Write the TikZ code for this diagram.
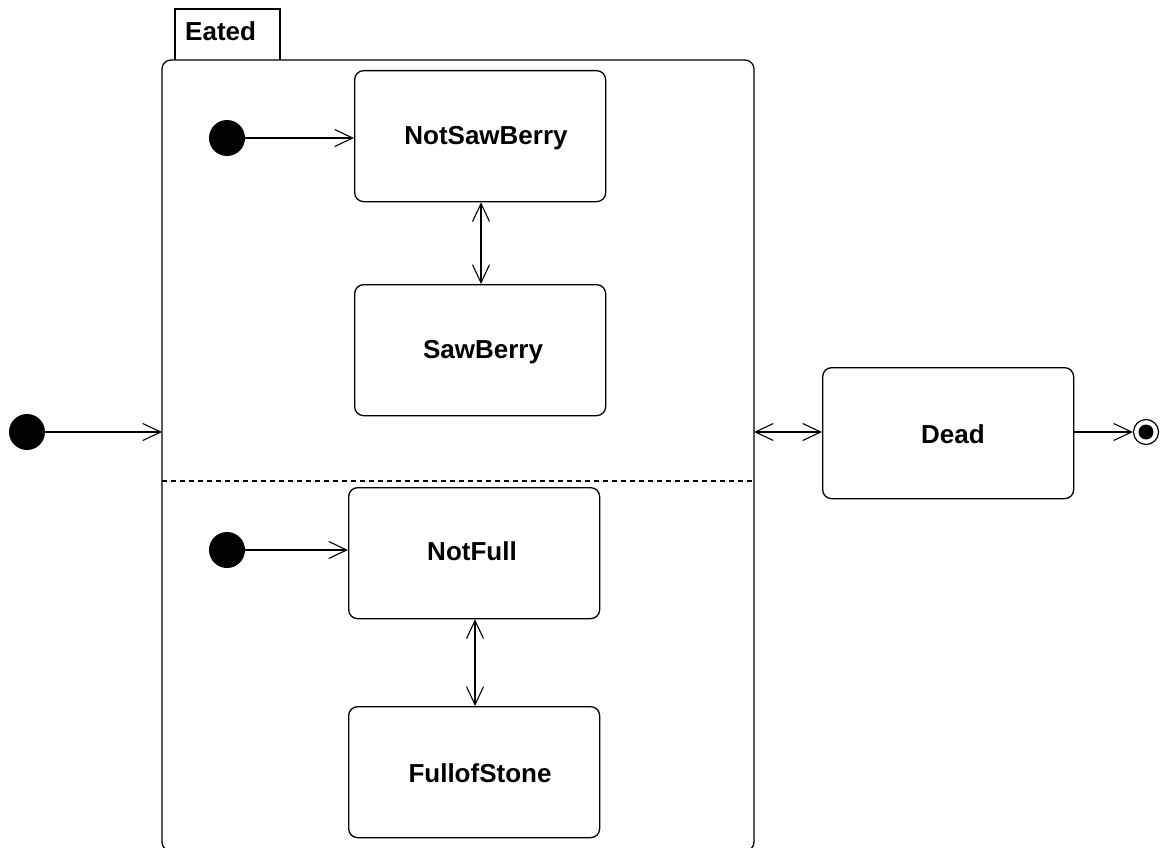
\documentclass[tikz,border=0pt]{standalone}
\usepackage{fontspec}
\setmainfont{Liberation Sans}
\usetikzlibrary{arrows.meta}
\begin{document}
\begin{tikzpicture}[x=1pt,y=-1pt,
  every node/.style={font=\fontsize{26}{29}\selectfont\bfseries},
  statebox/.style={draw,line width=1.3pt,rounded corners=9pt,minimum width=251pt,minimum height=131pt,anchor=north west,inner sep=0pt},
  initdot/.style={circle,fill=black,inner sep=0pt,minimum size=36pt},
  tip/.style={Straight Barb[length=18pt,width=17pt,line width=1.1pt]},
  trans/.style={line width=1.1pt,-{Straight Barb[length=18pt,width=17pt,line width=1.1pt]}},
  bitrans/.style={line width=1.1pt,{Straight Barb[length=18pt,width=17pt,line width=1.1pt]}-{Straight Barb[length=18pt,width=17pt,line width=1.1pt]}}
]
\useasboundingbox (0,0) rectangle (1161,848);
\begin{scope}
\clip (0,0) rectangle (1161,848);
% composite state with its name tab
\draw[line width=1.3pt] (175,60) -- (175,9) -- (280,9) -- (280,60);
\node[anchor=west,inner sep=0pt] (eatedlabel) at (185,31) {Eated};
\draw[line width=1.3pt,rounded corners=9pt] (162,700) -- (162,60) -- (754,60) -- (754,700);
\draw[line width=1.3pt,rounded corners=9pt] (162,700) -- (162,851) -- (754,851) -- (754,700);
\coordinate (eatedL) at (162,432);
\coordinate (eatedR) at (754,432);
% region separator
\draw[line width=1.3pt,dash pattern=on 5pt off 4pt] (162,481) -- (754,481);
\end{scope}

% substates
\node[statebox] (nsb) at (354,70) {};
\node at (486,138) {NotSawBerry};
\node[statebox] (sb) at (354,284) {};
\node at (483,352) {SawBerry};
\node[statebox] (nf) at (348,487) {};
\node at (472,551) {NotFull};
\node[statebox] (fs) at (348,706) {};
\node at (480,773) {FullofStone};
\node[statebox] (dead) at (822,367) {};
\node at (953,434) {Dead};

% initial and final pseudostates
\node[initdot] (i0) at (27,432) {};
\node[initdot] (i1) at (227,138) {};
\node[initdot] (i2) at (227,550) {};
\node[circle,draw,line width=1.2pt,minimum size=25pt,inner sep=0pt] (fin) at (1146,432) {};
\fill (fin.center) circle (7.5pt);

% transitions
\draw[trans] (i0) -- (eatedL);
\draw[trans] (i1) -- (nsb.west |- i1);
\draw[trans] (i2) -- (nf.west |- i2);
\draw[bitrans] (nsb.south -| 481,0) -- (sb.north -| 481,0);
\draw[bitrans] (nf.south -| 475,0) -- (fs.north -| 475,0);
\draw[bitrans] (eatedR) -- (dead.west |- eatedR);
\draw[trans] (dead.east |- eatedR) -- (fin);
\end{tikzpicture}
\end{document}
